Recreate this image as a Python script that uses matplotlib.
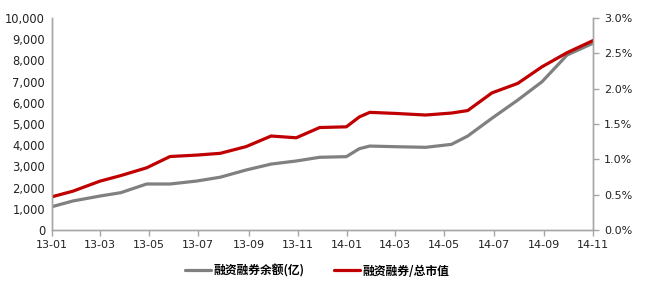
"""
Margin balance vs. margin / total market cap, dual-axis line chart
"""
import matplotlib
matplotlib.use('Agg')
import matplotlib.pyplot as plt
import matplotlib.dates as mdates
import matplotlib.ticker as mticker
import pandas as pd

plt.rcParams['font.family'] = ['DejaVu Sans', 'Noto Sans CJK SC']

# observation dates (roughly monthly, a couple of extra points in 2014)
dates = pd.to_datetime([
    '2013-01-01', '2013-01-27', '2013-03-01', '2013-03-27', '2013-04-28',
    '2013-05-27', '2013-06-29', '2013-07-28', '2013-08-29', '2013-09-29',
    '2013-10-30', '2013-11-28', '2013-12-31', '2014-01-16', '2014-01-29',
    '2014-03-01', '2014-04-08', '2014-05-10', '2014-05-30', '2014-06-29',
    '2014-07-31', '2014-08-30', '2014-09-30', '2014-11-01',
])

# 融资融券余额 (亿)
balance = [1100, 1370, 1600, 1760, 2170, 2170, 2310, 2490, 2830, 3110,
           3255, 3430, 3460, 3835, 3960, 3930, 3900, 4040, 4430, 5270,
           6130, 6995, 8255, 8810]

# 融资融券 / 总市值 (%)
ratio = [0.47, 0.55, 0.69, 0.77, 0.88, 1.04, 1.06, 1.085, 1.18, 1.33,
         1.305, 1.45, 1.46, 1.60, 1.665, 1.65, 1.627, 1.655, 1.69, 1.94,
         2.075, 2.31, 2.51, 2.68]

xtick_dates = pd.date_range('2013-01-01', '2014-11-01', freq='2MS')

GRAY = '#808080'
RED = '#C00000'
SPINE = '#A6A6A6'

fig = plt.figure(figsize=(6.47, 2.89), dpi=100)
ax = fig.add_axes([52 / 647, 1 - 230 / 289, (593 - 52) / 647, (230 - 18) / 289])
ax2 = ax.twinx()

l1, = ax.plot(dates, balance, color=GRAY, linewidth=2.3, label='融资融券余额(亿)',
              solid_capstyle='round')
l2, = ax2.plot(dates, ratio, color=RED, linewidth=2.3, label='融资融券/总市值',
               solid_capstyle='round')

ax.set_xlim(pd.Timestamp('2013-01-01'), pd.Timestamp('2014-11-01'))
ax.set_ylim(0, 10000)
ax2.set_ylim(0, 3.0)

ax.yaxis.set_major_locator(mticker.MultipleLocator(1000))
ax.yaxis.set_major_formatter(mticker.FuncFormatter(lambda v, p: f'{v:,.0f}'))
ax2.yaxis.set_major_locator(mticker.MultipleLocator(0.5))
ax2.yaxis.set_major_formatter(mticker.FuncFormatter(lambda v, p: f'{v:.1f}%'))

ax.set_xticks(xtick_dates)
ax.xaxis.set_major_formatter(mdates.DateFormatter('%y-%m'))

# spines: left, right, bottom in light gray, no top
for a in (ax, ax2):
    a.spines['top'].set_visible(False)
    for s in ('left', 'right', 'bottom'):
        a.spines[s].set_color(SPINE)
        a.spines[s].set_linewidth(1.0)

ax.tick_params(axis='y', length=0, labelsize=8.3, pad=5, colors='#222222')
ax.tick_params(axis='x', length=4, width=1, color=SPINE, labelsize=8,
               pad=3, labelcolor='#222222')
ax2.tick_params(axis='y', length=4, width=1, color=SPINE, labelsize=8,
                pad=4, labelcolor='#222222')

fig.legend(handles=[l1, l2], loc='center', bbox_to_anchor=(0.49, 1 - 271 / 289),
           ncol=2, frameon=False, handlelength=2.2,
           handletextpad=0.2, columnspacing=2.5,
           prop={'family': ['Noto Sans CJK SC', 'DejaVu Sans'], 'size': 8.5,
                 'weight': 'bold'})

fig.savefig('out.png', dpi=100, facecolor='white')
